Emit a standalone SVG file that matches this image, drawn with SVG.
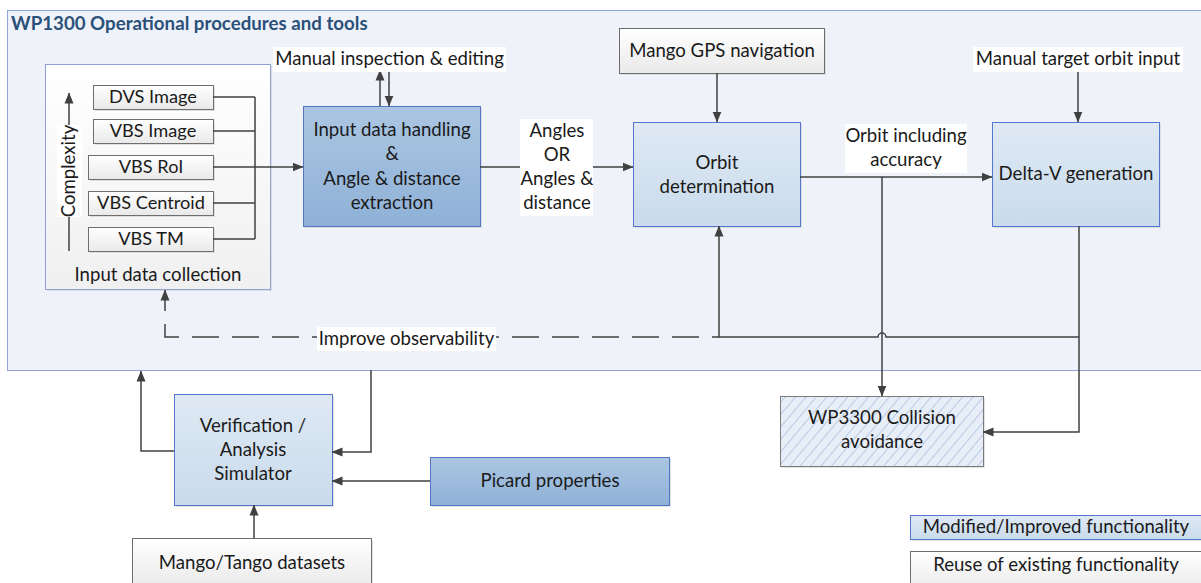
<svg xmlns="http://www.w3.org/2000/svg" width="1201" height="583" viewBox="0 0 1201 583">
<style>
text{font-family:Lato,"Liberation Sans",sans-serif;font-size:18.6px;fill:#1a1a1a;text-anchor:middle}
.title{font-size:18.7px;font-weight:bold;fill:#2b5079;text-anchor:start}
.sm{font-size:18.2px}
.shadow{fill:#cfcfcf;opacity:0.6}
.light{fill:url(#gLight);stroke:#5575cf;stroke-width:1}
.dark{fill:url(#gDark);stroke:#5575c4;stroke-width:1}
.white{fill:url(#gWhite);stroke:#6e6e6e;stroke-width:1}
.lbl{fill:#ffffff}
.c{fill:none;stroke:#404040;stroke-width:1.5}
.a{marker-end:url(#arr)}
.dash{stroke-dasharray:27 13;stroke-dashoffset:20}
</style>
<defs>
<linearGradient id="gLight" x1="0" y1="0" x2="0" y2="1"><stop offset="0" stop-color="#dfe9f4"/><stop offset="1" stop-color="#c9dbec"/></linearGradient>
<linearGradient id="gDark" x1="0" y1="0" x2="0" y2="1"><stop offset="0" stop-color="#abc6e2"/><stop offset="1" stop-color="#8fb1d7"/></linearGradient>
<linearGradient id="gWhite" x1="0" y1="0" x2="0" y2="1"><stop offset="0" stop-color="#ffffff"/><stop offset="1" stop-color="#e9e9e9"/></linearGradient>
<linearGradient id="gColl" x1="0" y1="0" x2="0" y2="1"><stop offset="0" stop-color="#ffffff"/><stop offset="1" stop-color="#f0f0f0"/></linearGradient>
<pattern id="hatch" width="8" height="8" patternUnits="userSpaceOnUse" patternTransform="rotate(40)"><rect width="8" height="8" fill="#e8eef7"/><line x1="0.5" y1="0" x2="0.5" y2="8" stroke="#b8cae6" stroke-width="1"/></pattern>
<marker id="arr" viewBox="0 0 11 10" refX="10.5" refY="5" markerWidth="11" markerHeight="10" markerUnits="userSpaceOnUse" orient="auto"><path d="M0,0.5 L11,5 L0,9.5 z" fill="#404040"/></marker>
</defs>

<g id="container">
<rect x="7.5" y="10.5" width="1200" height="360" fill="#eff3f9" stroke="#8fa4d8"/>
<text class="title" x="11" y="30">WP1300 Operational procedures and tools</text>
</g>

<g id="input-data-collection">
<rect class="shadow" x="47" y="66" width="225" height="225"/>
<rect x="45.5" y="64.5" width="225" height="225" fill="url(#gColl)" stroke="#8ea0d4"/>
<text x="158" y="281">Input data collection</text>
</g>

<g id="complexity">
<rect class="lbl" x="57" y="125" width="25" height="92"/>
<text transform="translate(75,171) rotate(-90)">Complexity</text>
</g>

<g id="dvs-image"><rect class="shadow" x="95" y="87" width="120" height="24"/><rect class="white" x="93.5" y="85.5" width="120" height="24"/><text class="sm" x="153" y="103">DVS Image</text></g>
<g id="vbs-image"><rect class="shadow" x="95" y="121" width="120" height="24"/><rect class="white" x="93.5" y="119.5" width="120" height="24"/><text class="sm" x="153" y="137">VBS Image</text></g>
<g id="vbs-roi"><rect class="shadow" x="90" y="157" width="125" height="24"/><rect class="white" x="88.5" y="155.5" width="125" height="24"/><text class="sm" x="151" y="173">VBS RoI</text></g>
<g id="vbs-centroid"><rect class="shadow" x="90" y="193" width="125" height="24"/><rect class="white" x="88.5" y="191.5" width="125" height="24"/><text class="sm" x="151" y="209">VBS Centroid</text></g>
<g id="vbs-tm"><rect class="shadow" x="90" y="229" width="125" height="24"/><rect class="white" x="88.5" y="227.5" width="125" height="24"/><text class="sm" x="151" y="245">VBS TM</text></g>

<g id="input-data-handling">
<rect class="shadow" x="305" y="108" width="177" height="120"/>
<rect class="dark" x="303.5" y="106.5" width="177" height="120"/>
<text x="392" y="136">Input data handling</text>
<text x="392" y="160">&amp;</text>
<text x="392" y="185">Angle &amp; distance</text>
<text x="392" y="209">extraction</text>
</g>

<g id="mango-gps">
<rect class="shadow" x="621" y="30" width="205" height="45"/>
<rect class="white" x="619.5" y="28.5" width="205" height="45"/>
<text x="722" y="57">Mango GPS navigation</text>
</g>

<g id="orbit-determination">
<rect class="shadow" x="635" y="124" width="167" height="104"/>
<rect class="light" x="633.5" y="122.5" width="167" height="104"/>
<text x="717" y="169">Orbit</text>
<text x="717" y="193">determination</text>
</g>

<g id="delta-v">
<rect class="shadow" x="994" y="124" width="167" height="104"/>
<rect class="light" x="992.5" y="122.5" width="167" height="104"/>
<text x="1076" y="180">Delta-V generation</text>
</g>

<g id="collision-avoidance">
<rect class="shadow" x="782" y="398" width="203" height="70"/>
<rect x="780.5" y="396.5" width="203" height="70" fill="url(#hatch)" stroke="#7a7a7a"/>
<text x="882" y="424">WP3300 Collision</text>
<text x="882" y="448">avoidance</text>
</g>

<g id="verification-simulator">
<rect class="shadow" x="176" y="396" width="158" height="111"/>
<rect class="light" x="174.5" y="394.5" width="158" height="111"/>
<text x="253" y="432">Verification /</text>
<text x="253" y="456">Analysis</text>
<text x="253" y="480">Simulator</text>
</g>

<g id="picard-properties">
<rect class="shadow" x="432" y="459" width="239" height="48"/>
<rect class="dark" x="430.5" y="457.5" width="239" height="48"/>
<text x="550" y="487">Picard properties</text>
</g>

<g id="mango-tango">
<rect class="shadow" x="134" y="540" width="239" height="50"/>
<rect class="white" x="132.5" y="538.5" width="239" height="50"/>
<text x="252" y="569">Mango/Tango datasets</text>
</g>

<g id="legend-modified">
<rect class="shadow" x="912" y="517" width="295" height="24"/>
<rect class="light" x="910.5" y="515.5" width="295" height="24"/>
<text x="1056" y="533">Modified/Improved functionality</text>
</g>

<g id="legend-reuse">
<rect class="shadow" x="912" y="553" width="295" height="40"/>
<rect class="white" x="910.5" y="551.5" width="295" height="40"/>
<text x="1056" y="571">Reuse of existing functionality</text>
</g>

<g id="connectors">
<path class="c" d="M213,97 H255 M213,131 H255 M213,203 H255 M213,239 H255 M255,97 V239"/>
<path class="c a" d="M213,167 H303"/>
<path class="c" d="M69,251 V217"/>
<path class="c a" d="M69,125 V93"/>
<path class="c a" d="M380,106 V70"/>
<path class="c a" d="M389,72 V106"/>
<path class="c a" d="M480,167 H633"/>
<path class="c a" d="M717,73 V122"/>
<path class="c a" d="M800,177 H992"/>
<path class="c a" d="M882,177 V396"/>
<path class="c a" d="M1078,72 V122"/>
<path class="c a" d="M1079,226 V432 H983"/>
<path class="c a" d="M1079,337 H886 a4,4 0 0 0 -8,0 H719 V226"/>
<path class="c a dash" d="M719,337 H165 V290"/>
<path class="c a" d="M174,451 H141 V371"/>
<path class="c a" d="M371,370 V452 H332"/>
<path class="c a" d="M430,481 H332"/>
<path class="c a" d="M254,538 V505"/>
</g>

<g id="labels">
<rect class="lbl" x="273" y="47" width="233" height="25"/>
<text x="389.5" y="65">Manual inspection &amp; editing</text>
<rect class="lbl" x="520" y="119" width="73" height="97"/>
<text x="557" y="137">Angles</text>
<text x="557" y="161">OR</text>
<text x="557" y="185">Angles &amp;</text>
<text x="557" y="209">distance</text>
<rect class="lbl" x="845" y="124" width="122" height="49"/>
<text x="906" y="142">Orbit including</text>
<text x="906" y="166">accuracy</text>
<rect class="lbl" x="973" y="47" width="210" height="25"/>
<text x="1078" y="65">Manual target orbit input</text>
<rect class="lbl" x="317" y="327" width="179" height="24"/>
<text x="406.5" y="345">Improve observability</text>
</g>
</svg>
